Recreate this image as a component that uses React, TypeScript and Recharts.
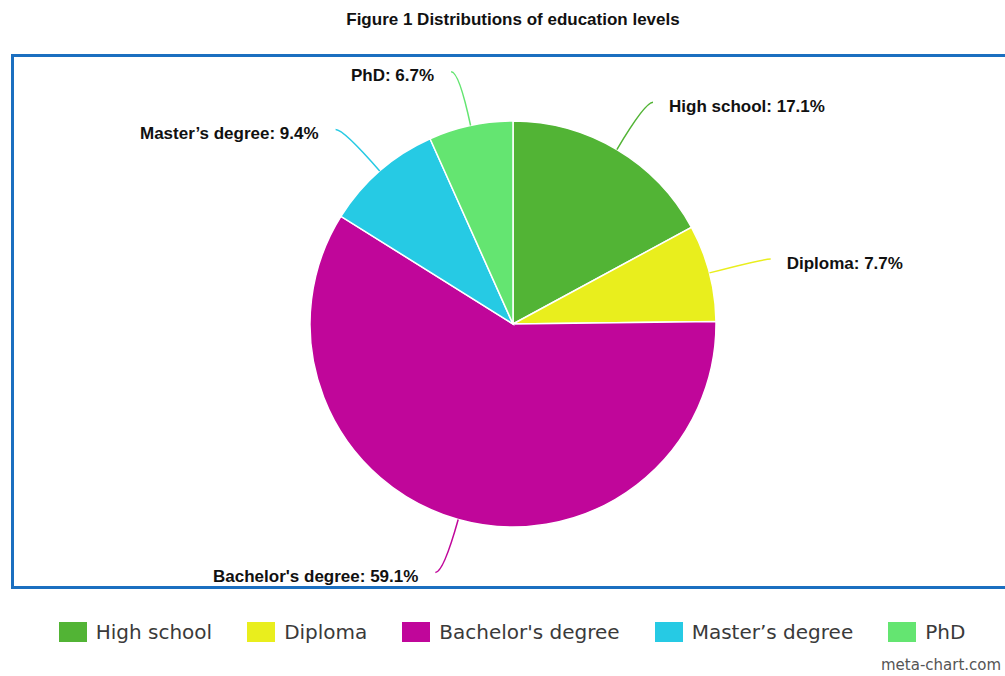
import React from 'react';
import { PieChart, Pie, Cell, Legend } from 'recharts';

const title = 'Figure 1 Distributions of education levels';
const categories = ['High school', 'Diploma', "Bachelor's degree", 'Master\u2019s degree', 'PhD'];
const shares = [17.1, 7.7, 59.1, 9.4, 6.7];
const colors = ['#52B435', '#E9EE1D', '#C0069A', '#26CAE4', '#64E571'];
const credit = 'meta-chart.com';

const data = categories.map((name, i) => ({ name, value: shares[i] }));

const RAD = Math.PI / 180;

function renderLabel(props: any) {
  const { cx, cy, midAngle, outerRadius, index, name, value } = props;
  const cos = Math.cos(-midAngle * RAD);
  const sin = Math.sin(-midAngle * RAD);
  const sx = cx + outerRadius * cos;
  const sy = cy + outerRadius * sin;
  const mx = cx + (outerRadius + 55) * cos;
  const my = cy + (outerRadius + 55) * sin;
  const right = cos >= 0;
  const ex = mx + (right ? 8 : -8);
  const ey = my;
  const tx = ex + (right ? 16 : -17);
  return (
    <g key={`lbl-${index}`}>
      <path d={`M${sx},${sy}Q${mx},${my} ${ex},${ey}`} stroke={colors[index]} fill="none" strokeWidth={1.5} />
      <text
        x={tx}
        y={ey + 4}
        textAnchor={right ? 'start' : 'end'}
        dominantBaseline="central"
        fontFamily="'Liberation Sans', Arial, sans-serif"
        fontWeight="bold"
        fontSize={17}
        fill="#111"
      >
        {`${name}: ${value}%`}
      </text>
    </g>
  );
}

function renderLegend() {
  return (
    <div
      style={{
        display: 'flex',
        justifyContent: 'center',
        alignItems: 'center',
        gap: 35,
        height: 24,
        fontFamily: "'DejaVu Sans', sans-serif",
        fontSize: 20,
        color: '#3a3a3a',
        whiteSpace: 'nowrap',
      }}
    >
      {categories.map((c, i) => (
        <div key={c} style={{ display: 'flex', alignItems: 'center' }}>
          <div style={{ width: 28, height: 20, background: colors[i], marginRight: 9 }} />
          <span>{c}</span>
        </div>
      ))}
    </div>
  );
}

export default function App() {
  return (
    <div style={{ position: 'absolute', left: 0, top: 0, width: 1005, height: 676, overflow: 'hidden', background: '#fff' }}>
      <div
        style={{
          position: 'absolute',
          left: 0,
          top: 10,
          width: 1026,
          textAlign: 'center',
          fontFamily: "'Liberation Sans', Arial, sans-serif",
          fontWeight: 'bold',
          fontSize: 17,
          color: '#111',
          lineHeight: '19px',
        }}
      >
        {title}
      </div>
      <div
        style={{
          position: 'absolute',
          left: 11,
          top: 54,
          width: 1010,
          height: 535,
          border: '3px solid #1B6FC0',
          boxSizing: 'border-box',
        }}
      />
      <div style={{ position: 'absolute', left: 0, top: 0 }}>
        <PieChart width={1005} height={676} margin={{ top: 0, right: 0, bottom: 0, left: 0 }}>
          <Pie
            data={data}
            dataKey="value"
            nameKey="name"
            cx={513}
            cy={324}
            outerRadius={203}
            startAngle={90}
            endAngle={-270}
            stroke="#fff"
            strokeWidth={1.5}
            label={renderLabel}
            labelLine={false}
            isAnimationActive={false}
          >
            {data.map((d, i) => (
              <Cell key={d.name} fill={colors[i]} />
            ))}
          </Pie>
          <Legend
            content={renderLegend}
            wrapperStyle={{ position: 'absolute', left: 2, top: 619.5, width: 1020, height: 24 }}
          />
        </PieChart>
      </div>
      <div
        style={{
          position: 'absolute',
          left: 881,
          top: 657,
          fontFamily: "'DejaVu Sans', sans-serif",
          fontSize: 15,
          color: '#555',
          whiteSpace: 'nowrap',
          lineHeight: '16px',
        }}
      >
        {credit}
      </div>
    </div>
  );
}
